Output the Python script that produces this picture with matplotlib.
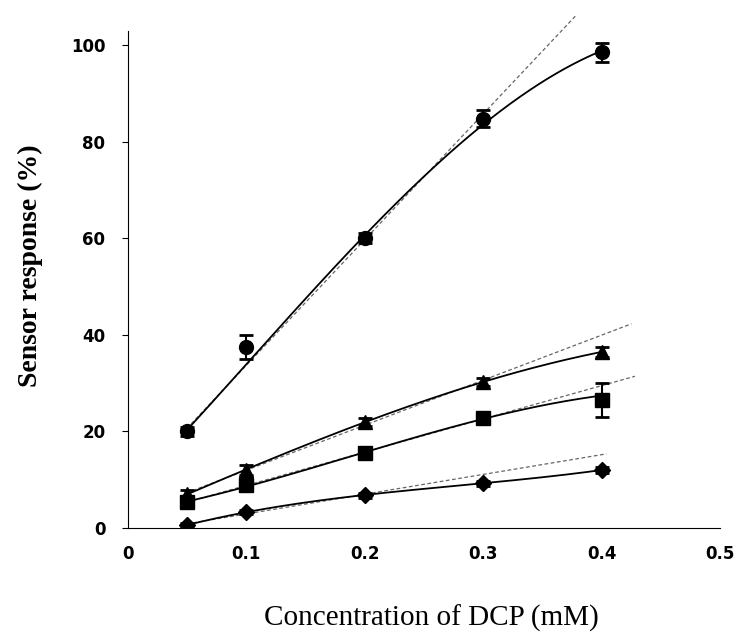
import matplotlib.pyplot as plt
import numpy as np

# concentration of DCP (mM)
conc = [0.05, 0.1, 0.2, 0.3, 0.4]

# sensor response (%) for the four sensors
resp_circle = [20.0, 37.5, 60.0, 84.8, 98.5]
resp_triangle = [7.0, 12.0, 22.0, 30.2, 36.5]
resp_square = [5.4, 8.9, 15.5, 22.8, 26.5]
resp_diamond = [0.6, 3.3, 6.8, 9.3, 12.0]

err_circle = [1.0, 2.4, 1.0, 1.8, 2.0]
err_triangle = [0.8, 1.0, 0.8, 0.8, 1.0]
err_square = [0.6, 0.8, 0.6, 0.8, 3.5]
err_diamond = [0.4, 0.4, 0.5, 0.5, 0.6]

# number of points used for the linear trend, and how far it is drawn
lin_points = [4, 4, 4, 3]
trend_end = [0.378, 0.425, 0.428, 0.404]

series = [
    (resp_circle, err_circle, 'o'),
    (resp_triangle, err_triangle, '^'),
    (resp_square, err_square, 's'),
    (resp_diamond, err_diamond, 'D'),
]

fig = plt.figure(figsize=(7.38, 6.4), dpi=100)
ax = fig.add_axes([0.173, 0.175, 0.803, 0.777])

x = np.array(conc)
for (y, e, m), n, xe in zip(series, lin_points, trend_end):
    y = np.array(y)
    w = 1.0 / np.array(e)
    # smooth polynomial fit through the points, weighted by the error
    p = np.polyfit(x, y, 3, w=w)
    xs = np.linspace(x[0], x[-1], 200)
    ax.plot(xs, np.polyval(p, xs), color='black', lw=1.3, zorder=2)
    # linear trend over the linear range
    k = np.polyfit(x[:n], y[:n], 1, w=w[:n])
    xl = np.linspace(x[0], xe, 50)
    ax.plot(xl, np.polyval(k, xl), color='#666666', lw=0.9, ls=(0, (3, 2)),
            zorder=1, clip_on=False)
    ax.errorbar(x, y, yerr=e, fmt=m, color='black', ms=10 if m != 'D' else 8.5,
                capsize=5, elinewidth=1.5, capthick=2, zorder=3)

ax.set_xlim(0, 0.5)
ax.set_ylim(0, 103)
ax.set_yticks([0, 20, 40, 60, 80, 100])
ax.set_xticks([0, 0.1, 0.2, 0.3, 0.4, 0.5])
ax.set_xticklabels(['0', '0.1', '0.2', '0.3', '0.4', '0.5'])
ax.spines['top'].set_visible(False)
ax.spines['right'].set_visible(False)
ax.spines['left'].set_linestyle((0, (2, 1)))
ax.spines['bottom'].set_linestyle((0, (2, 1)))
ax.spines['left'].set_linewidth(0.8)
ax.spines['bottom'].set_linewidth(0.8)
ax.tick_params(axis='x', length=0, pad=12)
ax.tick_params(axis='y', length=4, pad=12)
for lab in ax.get_xticklabels() + ax.get_yticklabels():
    lab.set_fontfamily('DejaVu Sans')
    lab.set_fontweight('bold')
    lab.set_fontsize(12)

ax.set_xlabel('Concentration of DCP (mM)', fontfamily='Liberation Serif',
              fontsize=21, labelpad=30)
ax.set_ylabel('Sensor response (%)', fontfamily='Liberation Serif',
              fontsize=20, fontweight='bold', labelpad=20)
ax.xaxis.label.set_x(0.512)
ax.yaxis.label.set_y(0.528)

fig.savefig('out.png', dpi=100)
